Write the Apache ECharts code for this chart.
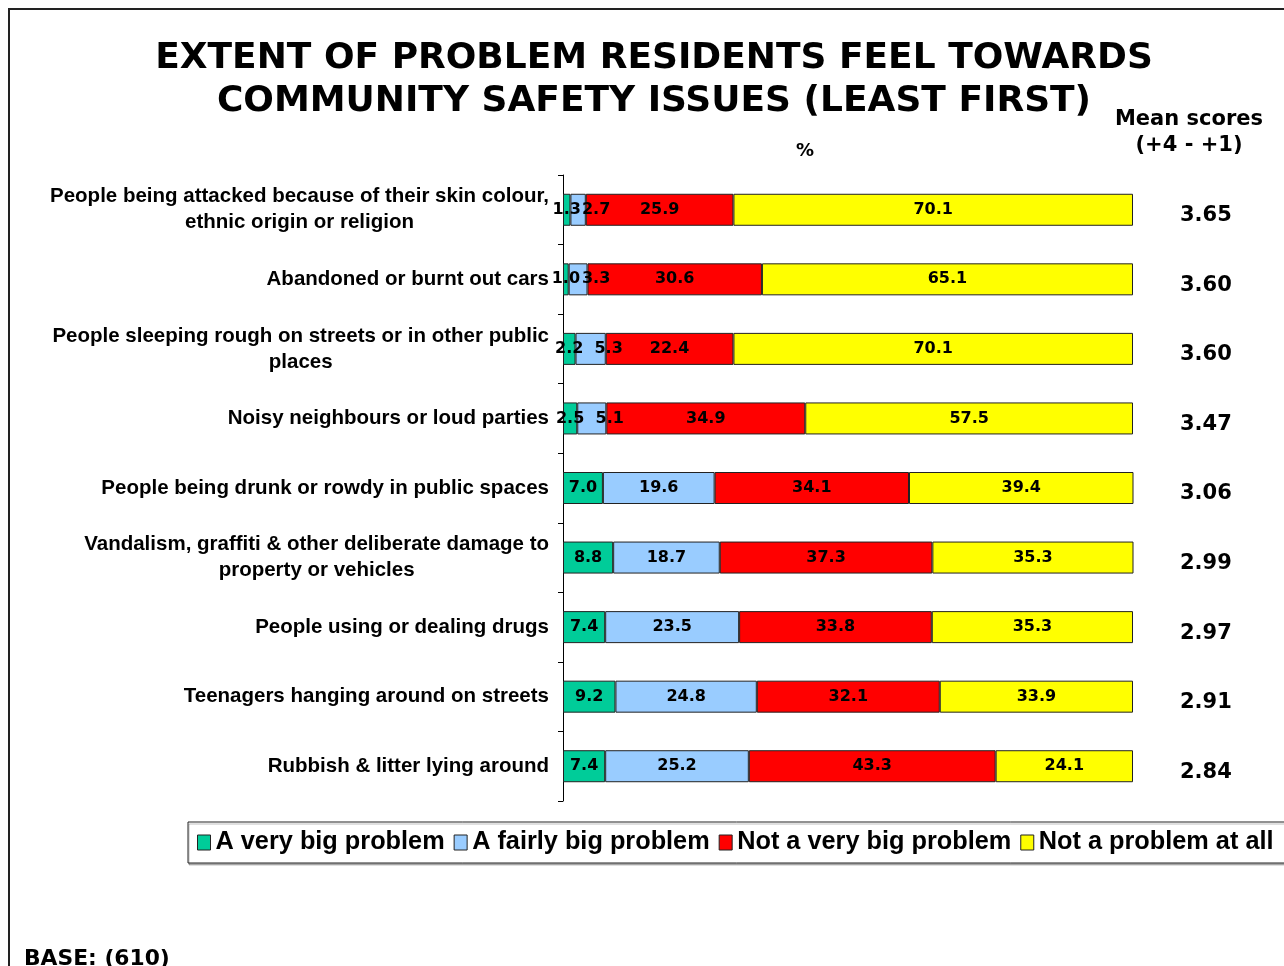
<!DOCTYPE html>
<html>
<head>
<meta charset="utf-8">
<title>Community safety issues</title>
<script src="https://cdn.jsdelivr.net/npm/echarts@6/dist/echarts.min.js"></script>
<style>
  html, body { margin: 0; padding: 0; background: #fff; }
  #chart { width: 1284px; height: 966px; }
</style>
</head>
<body>
<div id="chart"></div>
<script>
// categories, top to bottom
var categories = [
  'People being attacked because of their skin colour,\nethnic origin or religion',
  'Abandoned or burnt out cars',
  'People sleeping rough on streets or in other public\nplaces',
  'Noisy neighbours or loud parties',
  'People being drunk or rowdy in public spaces',
  'Vandalism, graffiti & other deliberate damage to\nproperty or vehicles',
  'People using or dealing drugs',
  'Teenagers hanging around on streets',
  'Rubbish & litter lying around'
];
var veryBig = [1.3, 1.0, 2.2, 2.5, 7.0, 8.8, 7.4, 9.2, 7.4];
var fairlyBig = [2.7, 3.3, 5.3, 5.1, 19.6, 18.7, 23.5, 24.8, 25.2];
var notVeryBig = [25.9, 30.6, 22.4, 34.9, 34.1, 37.3, 33.8, 32.1, 43.3];
var notAtAll = [70.1, 65.1, 70.1, 57.5, 39.4, 35.3, 35.3, 33.9, 24.1];
var meanScores = ['3.65', '3.60', '3.60', '3.47', '3.06', '2.99', '2.97', '2.91', '2.84'];
var seriesNames = ['A very big problem', 'A fairly big problem', 'Not a very big problem', 'Not a problem at all'];
var colors = ['#00cc99', '#99ccff', '#ff0000', '#ffff00'];

var chart = echarts.init(document.getElementById('chart'));

// common settings for every stacked segment
function makeSeries(name, data) {
  return {
    name: name,
    type: 'bar',
    stack: 'total',
    barWidth: 32,
    data: data,
    itemStyle: { borderColor: '#222', borderWidth: 1 },
    label: {
      show: true,
      position: 'inside',
      offset: [0, 2],
      color: '#000',
      fontFamily: 'DejaVu Sans',
      fontWeight: 'bold',
      fontSize: 16,
      formatter: function (p) { return p.value.toFixed(1); }
    }
  };
}

chart.setOption({
  color: colors,
  backgroundColor: '#fff',
  animation: false,
  title: [
    {
      text: 'EXTENT OF PROBLEM RESIDENTS FEEL TOWARDS\nCOMMUNITY SAFETY ISSUES (LEAST FIRST)',
      left: 649,
      top: 32,
      textAlign: 'center',
      textStyle: { fontFamily: 'DejaVu Sans', fontWeight: 'bold', fontSize: 36, lineHeight: 43, color: '#000' }
    },
    {
      text: 'Mean scores\n(+4 - +1)',
      left: 1184,
      top: 102,
      textAlign: 'center',
      textStyle: { fontFamily: 'DejaVu Sans', fontWeight: 'bold', fontSize: 21, lineHeight: 26, color: '#000' }
    },
    {
      text: '%',
      left: 800,
      top: 137,
      textAlign: 'center',
      textStyle: { fontFamily: 'DejaVu Sans', fontWeight: 'bold', fontSize: 18, color: '#000' }
    },
    {
      text: 'BASE: (610)',
      left: 19,
      top: 943,
      textStyle: { fontFamily: 'DejaVu Sans', fontWeight: 'bold', fontSize: 21.8, color: '#000' }
    }
  ],
  graphic: [
    // outer frame
    {
      type: 'polyline',
      shape: { points: [[9, 970], [9, 9], [1290, 9]] },
      style: { stroke: '#222', lineWidth: 2, fill: null }
    }
  ],
  legend: {
    data: seriesNames,
    left: 188,
    top: 822,
    width: 1400,
    orient: 'horizontal',
    padding: [8, 40, 8, 9],
    itemGap: 9,
    itemWidth: 13,
    itemHeight: 15,
    icon: 'rect',
    itemStyle: { borderColor: '#222', borderWidth: 1 },
    borderColor: '#222',
    borderWidth: 1,
    backgroundColor: '#fff',
    shadowColor: 'rgba(0,0,0,0.25)',
    shadowOffsetX: 1,
    shadowOffsetY: 2,
    textStyle: { fontFamily: 'Liberation Sans', fontWeight: 'bold', fontSize: 25.3, color: '#000', padding: [0, 0, 0, 0] }
  },
  grid: {
    left: 563,
    right: 151,
    top: 175,
    bottom: 165
  },
  xAxis: {
    type: 'value',
    min: 0,
    max: 100,
    show: false
  },
  yAxis: [
    {
      type: 'category',
      data: categories,
      inverse: true,
      axisLine: { show: true, lineStyle: { color: '#000', width: 1 } },
      axisTick: { show: true, length: 5, lineStyle: { color: '#000' } },
      axisLabel: {
        margin: 14,
        formatter: function (v) {
          return v.split('\n').map(function (s) { return '{c|' + s + '}'; }).join('\n');
        },
        rich: {
          c: { align: 'center', fontFamily: 'Liberation Sans', fontWeight: 'bold', fontSize: 20.5, lineHeight: 26, color: '#000' }
        }
      }
    },
    {
      type: 'category',
      data: meanScores,
      inverse: true,
      position: 'right',
      axisLine: { show: false },
      axisTick: { show: false },
      axisLabel: {
        margin: 47,
        align: 'left',
        formatter: function (v) { return '{m|' + v + '}'; },
        rich: {
          m: { padding: [12, 0, 0, 0], fontFamily: 'DejaVu Sans', fontWeight: 'bold', fontSize: 21, color: '#000' }
        }
      }
    }
  ],
  // nudge the label of a too-narrow "fairly big" segment to the right, as in the original
  labelLayout: function (params) {
    if (params.seriesIndex === 1 && params.rect.width < 35) {
      return { dx: 18 };
    }
  },
  series: [
    makeSeries(seriesNames[0], veryBig),
    makeSeries(seriesNames[1], fairlyBig),
    makeSeries(seriesNames[2], notVeryBig),
    makeSeries(seriesNames[3], notAtAll)
  ]
});
</script>
</body>
</html>
